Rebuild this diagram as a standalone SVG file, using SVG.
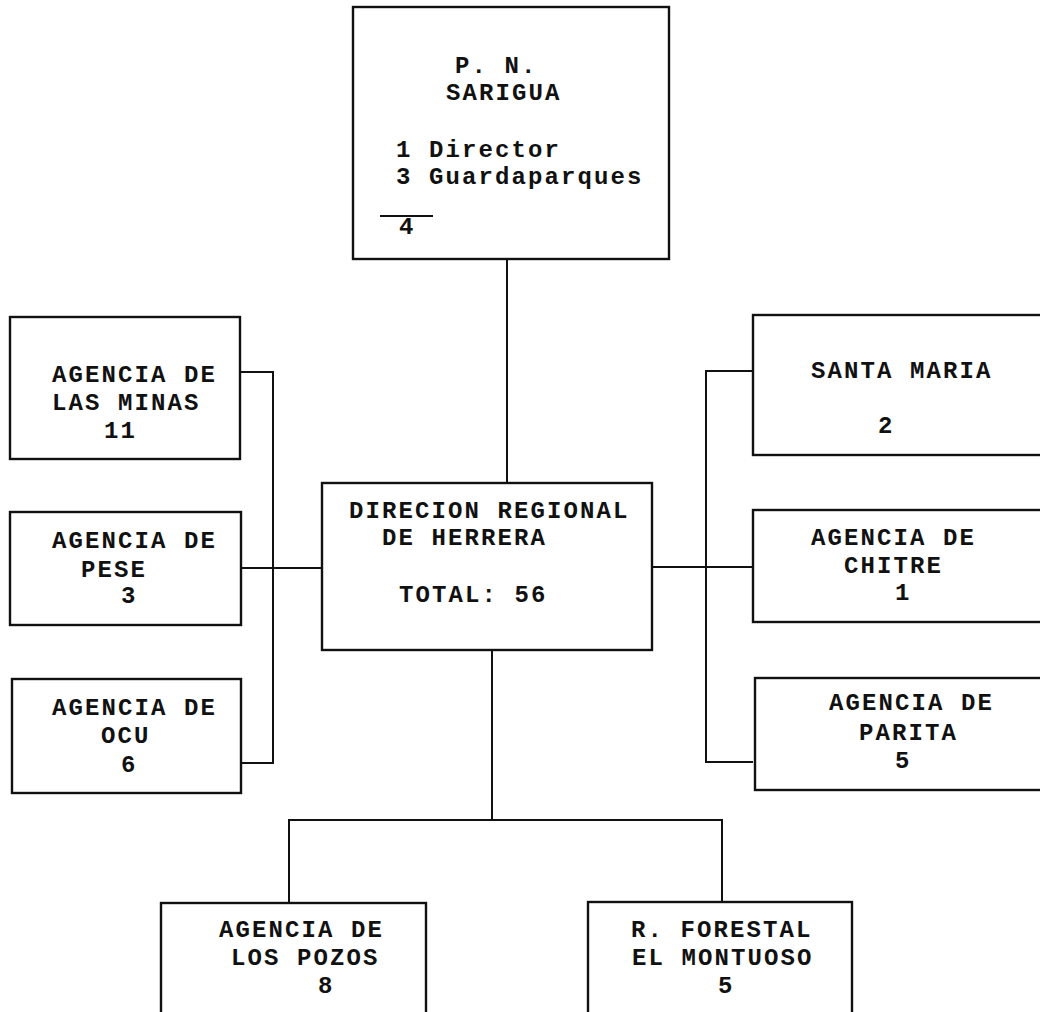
<svg xmlns="http://www.w3.org/2000/svg" width="1040" height="1012" viewBox="0 0 1040 1012">
<style>
.box{fill:none;stroke:#111;stroke-width:2.4}
.con{fill:none;stroke:#111;stroke-width:2}
text{font-family:"Liberation Mono","DejaVu Sans Mono",monospace;font-size:24px;font-weight:bold;letter-spacing:2.1px;fill:#111}
</style>
<rect width="1040" height="1012" fill="#fff"/>
<g id="connectors">
<path class="con" d="M507 259 V483"/>
<path class="con" d="M240 372 H273 V763 H241 M241 568 H322"/>
<path class="con" d="M753 371 H706 V762 H753 M652 567 H753"/>
<path class="con" d="M492 650 V820 M289 903 V820 H722 V902"/>
</g>
<g id="sarigua">
<rect class="box" x="353" y="7" width="316" height="252"/>
<text x="455" y="73">P. N.</text>
<text x="446" y="100">SARIGUA</text>
<text x="396" y="157">1 Director</text>
<text x="396" y="184">3 Guardaparques</text>
<line class="con" x1="380" y1="216" x2="433" y2="216"/>
<text x="399" y="234">4</text>
</g>
<g id="las-minas">
<rect class="box" x="10" y="317" width="230" height="142"/>
<text x="52" y="382">AGENCIA DE</text>
<text x="52" y="410">LAS MINAS</text>
<text x="104" y="438">11</text>
</g>
<g id="pese">
<rect class="box" x="10" y="512" width="231" height="113"/>
<text x="52" y="548">AGENCIA DE</text>
<text x="81" y="577">PESE</text>
<text x="121" y="603">3</text>
</g>
<g id="ocu">
<rect class="box" x="12" y="679" width="229" height="114"/>
<text x="52" y="715">AGENCIA DE</text>
<text x="101" y="743">OCU</text>
<text x="121" y="772">6</text>
</g>
<g id="direccion">
<rect class="box" x="322" y="483" width="330" height="167"/>
<text x="349" y="518">DIRECION REGIONAL</text>
<text x="382" y="545">DE HERRERA</text>
<text x="399" y="602">TOTAL: 56</text>
</g>
<g id="santa-maria">
<rect class="box" x="753" y="315" width="292" height="140"/>
<text x="811" y="378">SANTA MARIA</text>
<text x="878" y="433">2</text>
</g>
<g id="chitre">
<rect class="box" x="753" y="510" width="292" height="112"/>
<text x="811" y="545">AGENCIA DE</text>
<text x="844" y="573">CHITRE</text>
<text x="895" y="600">1</text>
</g>
<g id="parita">
<rect class="box" x="755" y="678" width="290" height="112"/>
<text x="829" y="710">AGENCIA DE</text>
<text x="859" y="740">PARITA</text>
<text x="895" y="768">5</text>
</g>
<g id="los-pozos">
<rect class="box" x="161" y="903" width="265" height="120"/>
<text x="219" y="937">AGENCIA DE</text>
<text x="231" y="965">LOS POZOS</text>
<text x="318" y="993">8</text>
</g>
<g id="montuoso">
<rect class="box" x="588" y="902" width="264" height="121"/>
<text x="631" y="937">R. FORESTAL</text>
<text x="632" y="965">EL MONTUOSO</text>
<text x="718" y="993">5</text>
</g>
</svg>
